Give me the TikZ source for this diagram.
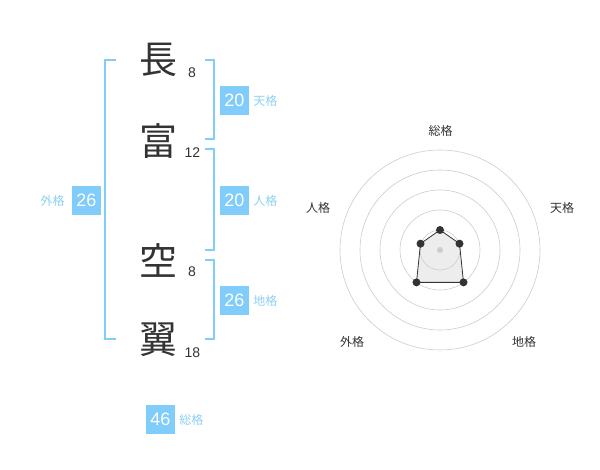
\documentclass[tikz,border=0pt]{standalone}
\usepackage{fontspec}
\setmainfont{Liberation Sans}
\newfontfamily\jpfont{Noto Sans CJK JP}
\usetikzlibrary{positioning}
\definecolor{kakublue}{HTML}{80CCFA}
\definecolor{kakutext}{HTML}{8CD0F5}
\definecolor{inkgray}{HTML}{333333}
\definecolor{ringgray}{HTML}{CCCCCC}

\begin{document}
\begin{tikzpicture}[x=1pt,y=-1pt,
  kanji/.style={font=\jpfont\fontsize{38}{38}\selectfont,text=inkgray,inner sep=0pt},
  strokes/.style={font=\fontsize{14}{14}\selectfont,text=inkgray,inner sep=0pt,anchor=base west},
  kakubox/.style={fill=kakublue,text=white,minimum size=29pt,inner sep=0pt,font=\fontsize{18}{18}\selectfont},
  kakulabel/.style={text=kakutext,font=\jpfont\fontsize{12}{12}\selectfont,inner sep=0pt},
  bracket/.style={draw=kakublue,line width=2pt},
  ring/.style={draw=ringgray,line width=0.6pt},
  axislabel/.style={text=inkgray,font=\jpfont\fontsize{12}{12}\selectfont,inner sep=0pt}]
\useasboundingbox (0,0) rectangle (600,470);
% name
\node[kanji] (c1) at (158,60) {長}; \node[strokes] (n1) at (188,78) {8};
\node[kanji] (c2) at (158,141) {富}; \node[strokes] (n2) at (184.5,158) {12};
\node[kanji] (c3) at (158,260) {空}; \node[strokes] (n3) at (188,277) {8};
\node[kanji] (c4) at (158,340) {翼}; \node[strokes] (n4) at (184.5,358) {18};
% brackets
\draw[bracket] (116,60)--(105,60)--(105,339)--(116,339);
\draw[bracket] (205,60)--(214,60)--(214,139)--(205,139);
\draw[bracket] (205,149)--(214,149)--(214,250)--(205,250);
\draw[bracket] (205,260)--(214,260)--(214,339)--(205,339);
% scores
\node[kakubox] (ten) at (234.5,100.5) {20}; \node[kakulabel,right=4pt of ten] (tenl) {天格};
\node[kakubox] (jin) at (234.5,200.5) {20}; \node[kakulabel,right=4pt of jin] (jinl) {人格};
\node[kakubox] (chi) at (234.5,300.5) {26}; \node[kakulabel,right=4pt of chi] (chil) {地格};
\node[kakubox] (gai) at (86.5,200.5) {26}; \node[kakulabel,left=7pt of gai] (gail) {外格};
\node[kakubox] (sou) at (160.5,419.5) {46}; \node[kakulabel,right=4pt of sou] (soul) {総格};
% radar
\begin{scope}[shift={(440,250)},yscale=-1]
\coordinate (o) at (0,0);
\foreach \a/\r/\n in {90/20/p1,18/20.5/p2,-54/40/p3,-126/40/p4,162/20.5/p5} \coordinate (\n) at (\a:\r);
\fill[black!7] (p1)--(p2)--(p3)--(p4)--(p5)--cycle;
\foreach \r in {20,40,...,100} \draw[ring] (o) circle (\r);
\fill[ringgray] (o) circle (3);
\draw[inkgray,line width=0.8pt] (p1)--(p2)--(p3)--(p4)--(p5)--cycle;
\foreach \n in {p1,p2,p3,p4,p5} \fill[inkgray] (\n) circle (4);
\node[axislabel] (a1) at (0.5,119.5) {総格};
\node[axislabel] (a2) at (122,42) {天格};
\node[axislabel] (a3) at (84,-92) {地格};
\node[axislabel] (a4) at (-88,-92) {外格};
\node[axislabel] (a5) at (-122,42) {人格};
\end{scope}
\end{tikzpicture}
\end{document}
